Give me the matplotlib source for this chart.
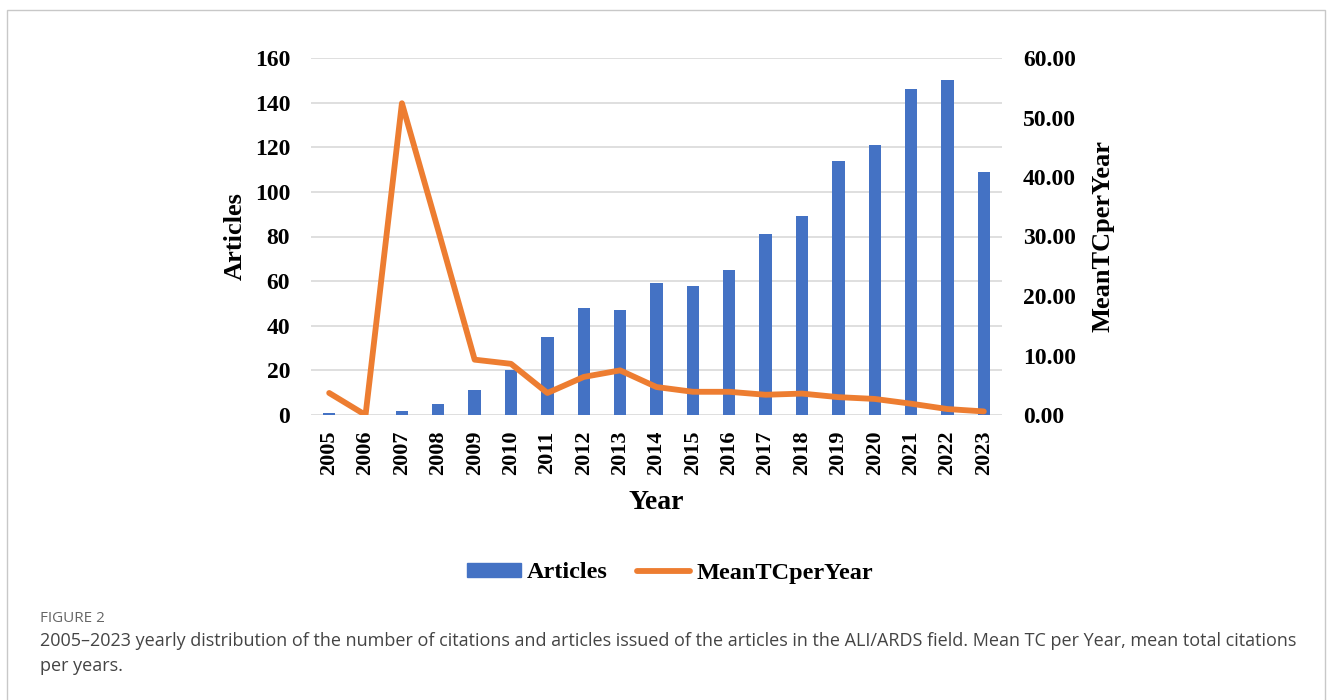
import numpy as np
import matplotlib
matplotlib.use("Agg")
import matplotlib.pyplot as plt
from matplotlib.patches import Rectangle, Patch
from matplotlib.lines import Line2D

years = ["2005", "2006", "2007", "2008", "2009", "2010", "2011", "2012", "2013", "2014",
         "2015", "2016", "2017", "2018", "2019", "2020", "2021", "2022", "2023"]
articles = [1, 0, 2, 5, 11, 20, 35, 48, 47, 59, 58, 65, 81, 89, 114, 121, 146, 150, 109]
mean_tc = [3.7, 0.0, 52.4, 31.0, 9.3, 8.6, 3.7, 6.4, 7.5, 4.7, 3.9, 3.9, 3.4, 3.6,
           3.0, 2.7, 1.9, 1.0, 0.6]
left_ticks = [0, 20, 40, 60, 80, 100, 120, 140, 160]
right_ticks = [0, 10, 20, 30, 40, 50, 60]

BLUE = "#4472C4"
ORANGE = "#ED7D31"
GRID = "#d9d9d9"
SERIF = "Liberation Serif"

fig = plt.figure(figsize=(13.3, 7), dpi=100)
fig.patch.set_facecolor("white")

# outer frame of the figure panel
fig.add_artist(Rectangle((7 / 1330, -0.05), 1318 / 1330, 1.05 - 10 / 700,
                         transform=fig.transFigure, fill=False,
                         edgecolor="#c8c8c8", linewidth=1.0))

ax = fig.add_axes([311 / 1330, 1 - 415 / 700, 691 / 1330, 357 / 700])
x = np.arange(len(years))
ax.bar(x, articles, width=0.34, color=BLUE, zorder=2)
ax.set_xlim(-0.5, len(years) - 0.5)
ax.set_ylim(0, 160)
ax.set_yticks(left_ticks)
ax.set_xticks(x)
ax.set_xticklabels(years, rotation=90)
ax.grid(True, axis="y", color=GRID, linewidth=1.2, zorder=0)
ax.set_axisbelow(True)
for s in ax.spines.values():
    s.set_visible(False)
ax.tick_params(axis="y", length=0, labelsize=17, pad=15)
ax.tick_params(axis="x", length=0, labelsize=16, pad=11)
for lbl in ax.get_xticklabels() + ax.get_yticklabels():
    lbl.set_fontfamily(SERIF)
    lbl.set_fontweight("bold")
ax.set_ylabel("Articles", fontfamily=SERIF, fontweight="bold", fontsize=19, labelpad=6)
ax.set_xlabel("Year", fontfamily=SERIF, fontweight="bold", fontsize=20, labelpad=11)

ax2 = ax.twinx()
ax2.plot(x, mean_tc, color=ORANGE, linewidth=4.2, solid_joinstyle="round",
         solid_capstyle="round", zorder=3)
ax2.set_ylim(0, 60)
ax2.set_yticks(right_ticks)
ax2.set_yticklabels([f"{v:.2f}" for v in right_ticks])
for s in ax2.spines.values():
    s.set_visible(False)
ax2.tick_params(axis="y", length=0, labelsize=17, pad=15)
for lbl in ax2.get_yticklabels():
    lbl.set_fontfamily(SERIF)
    lbl.set_fontweight("bold")
ax2.set_ylabel("MeanTCperYear", fontfamily=SERIF, fontweight="bold", fontsize=19, labelpad=11)

handles = [Patch(facecolor=BLUE, edgecolor=BLUE),
           Line2D([0], [0], color=ORANGE, linewidth=4.2, solid_capstyle="round")]
fig.legend(handles, ["Articles", "MeanTCperYear"], loc="center",
           bbox_to_anchor=(670 / 1330, 1 - 573 / 700), ncol=2, frameon=False,
           prop={"family": SERIF, "weight": "bold", "size": 17.5},
           handlelength=2.2, handleheight=0.55, columnspacing=1.2, handletextpad=0.25)

fig.text(40 / 1330, 1 - 619 / 700, "FIGURE 2", fontfamily="Open Sans", fontsize=11,
         color="#666666", va="center")
fig.text(40 / 1330, 1 - 641 / 700,
         "2005\u20132023 yearly distribution of the number of citations and articles issued of "
         "the articles in the ALI/ARDS field. Mean TC per Year, mean total citations",
         fontfamily="Open Sans", fontsize=13, color="#444444", va="center")
fig.text(40 / 1330, 1 - 666 / 700, "per years.", fontfamily="Open Sans", fontsize=13,
         color="#444444", va="center")

fig.savefig("out.png", dpi=100)
